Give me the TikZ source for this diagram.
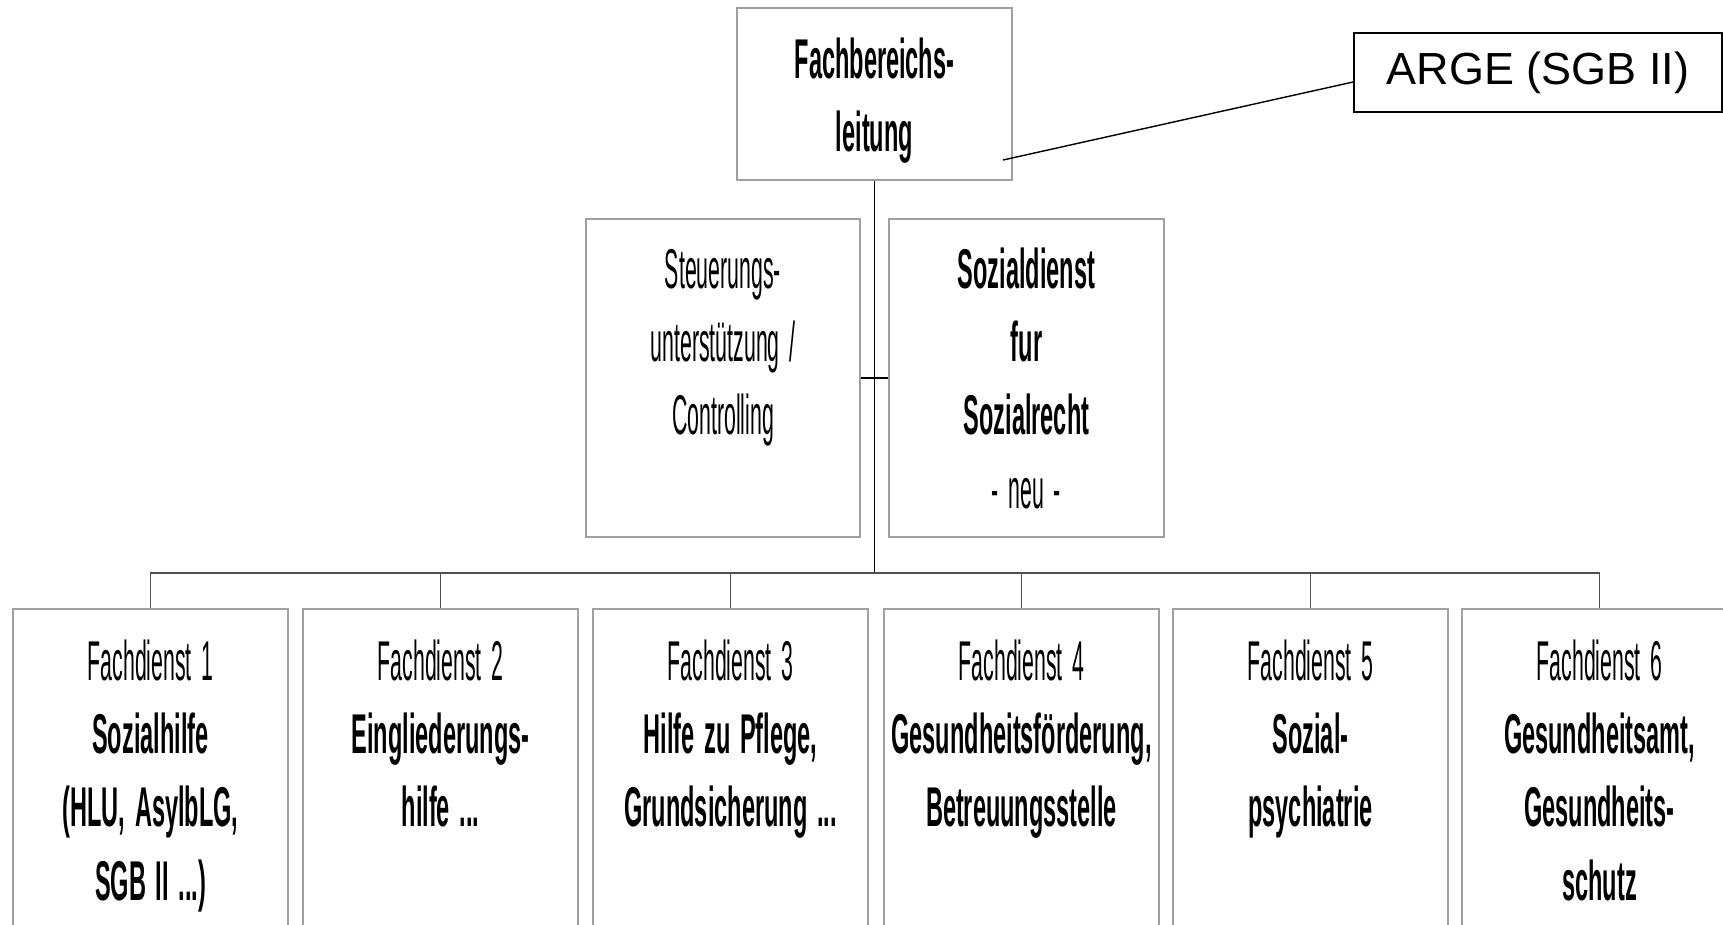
\documentclass[tikz,border=0pt]{standalone}
\usepackage{fontspec}
\newfontfamily\cond[FakeStretch=0.38, BoldFeatures={FakeStretch=0.42}]{Liberation Sans}
\newfontfamily\argefont{Liberation Sans}
\definecolor{boxgray}{HTML}{A0A0A0}
\definecolor{busgray}{HTML}{505050}
\newcommand{\condsize}{\cond\fontsize{31.9}{41.8}\selectfont}
\newcommand{\gapsp}{\hspace{5.5pt}}
\begin{document}
\begin{tikzpicture}[x=0.02cm,y=-0.02cm,
  box/.style={draw=boxgray, line width=0.8pt, minimum width=5.5cm, inner sep=0pt},
  lowbox/.style={box, minimum height=8cm},
  conn/.style={draw=busgray, line width=0.8pt},
  mainline/.style={draw=black, line width=0.8pt},
  txt/.style={font=\condsize, text width=5.4cm, align=center, inner sep=0pt, anchor=base},
  txtb/.style={txt, font=\condsize\bfseries},
  argebox/.style={draw=black, line width=1.1pt, minimum width=7.36cm, minimum height=1.58cm, inner sep=0pt, font=\argefont\fontsize{25.6}{30}\selectfont}
  ]
\useasboundingbox (0,0) rectangle (1723,924);
\clip (0,0) rectangle (1723,924);

% top
\node[box, minimum height=3.44cm] (top) at (874.5,94) {};
\node[txtb] (toptxt) at (874.5,78) {Fachbereichs-\\leitung};

% ARGE
\node[argebox] (arge) at (1538,72.5) {ARGE (SGB II)};

% staff boxes
\node[box, minimum width=5.48cm, minimum height=6.36cm] (steu) at (723,378) {};
\node[txt] (steutxt) at (723,288) {Steuerungs-\\unterstützung\gapsp/\\Controlling};
\node[box, minimum height=6.36cm] (sozd) at (1026.5,378) {};
\node[txt] (sozdtxt) at (1026.5,288) {\textbf{Sozialdienst}\\\textbf{fur}\\\textbf{Sozialrecht}\\-\gapsp neu\gapsp-};

% bottom boxes
\node[lowbox] (b1) at (150.5,809) {};
\node[lowbox] (b2) at (440.5,809) {};
\node[lowbox] (b3) at (730.5,809) {};
\node[lowbox] (b4) at (1021.5,809) {};
\node[lowbox] (b5) at (1310.5,809) {};
\node[lowbox] (b6) at (1599.5,809) {};

\node[txt] (t1) at (150.5,680) {Fachdienst\gapsp1\\\textbf{Sozialhilfe}\\\textbf{(HLU,\gapsp AsylbLG,}\\\textbf{SGB\gapsp II\gapsp...)}};
\node[txt] (t2) at (440.5,680) {Fachdienst\gapsp2\\\textbf{Eingliederungs-}\\\textbf{hilfe\gapsp...}};
\node[txt] (t3) at (730.5,680) {Fachdienst\gapsp3\\\textbf{Hilfe\gapsp zu\gapsp Pflege,}\\\textbf{Grundsicherung\gapsp...}};
\node[txt] (t4) at (1021.5,680) {Fachdienst\gapsp4\\\textbf{Gesundheitsförderung,}\\\textbf{Betreuungsstelle}};
\node[txt] (t5) at (1310.5,680) {Fachdienst\gapsp5\\\textbf{Sozial-}\\\textbf{psychiatrie}};
\node[txt] (t6) at (1599.5,680) {Fachdienst\gapsp6\\\textbf{Gesundheitsamt,}\\\textbf{Gesundheits-}\\\textbf{schutz}};

% connectors
\coordinate (bus) at (874.5,573);
\draw[mainline] (top.south) -- (top.south |- bus);
\draw[conn] (b1.north) -- (b1.north |- bus) -- (b6.north |- bus) -- (b6.north);
\foreach \i in {2,...,5} \draw[conn] (b\i.north) -- (b\i.north |- bus);
\draw[mainline] (steu.east) -- (sozd.west);
\coordinate (aend) at (1003,160);
\draw[mainline] (aend) -- ([yshift=-0.19cm]arge.west);
\end{tikzpicture}
\end{document}
